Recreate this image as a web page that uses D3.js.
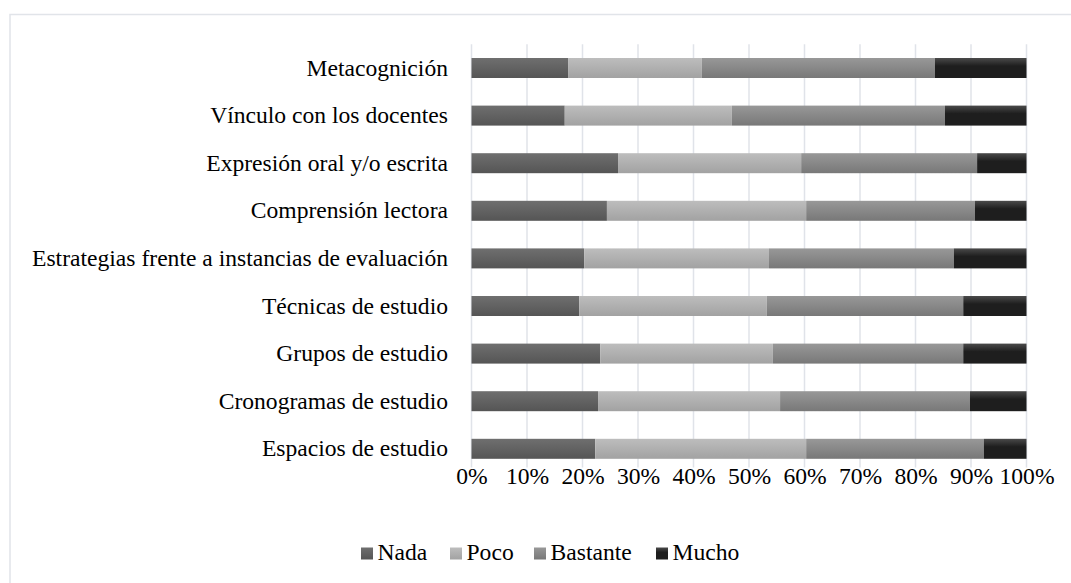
<!DOCTYPE html>
<html>
<head>
<meta charset="utf-8">
<script src="https://cdn.jsdelivr.net/npm/d3@7"></script>
<style>
  body { margin: 0; background: #fff; }
  svg { display: block; }
  svg text { font-family: 'Liberation Serif', 'Times New Roman', Times, 'DejaVu Serif', serif; }
</style>
</head>
<body>
<svg></svg>
<script>
let categories = [
    'Metacognición',
    'Vínculo con los docentes',
    'Expresión oral y/o escrita',
    'Comprensión lectora',
    'Estrategias frente a instancias de evaluación',
    'Técnicas de estudio',
    'Grupos de estudio',
    'Cronogramas de estudio',
    'Espacios de estudio'
]
let seriesNames = ['Nada', 'Poco', 'Bastante', 'Mucho']
let nada     = [17.4, 16.8, 26.4, 24.4, 20.3, 19.4, 23.2, 22.8, 22.3]
let poco     = [24.1, 30.1, 33.0, 35.9, 33.3, 33.8, 31.1, 32.8, 38.0]
let bastante = [42.0, 38.4, 31.7, 30.4, 33.3, 35.4, 34.3, 34.2, 32.0]
let mucho    = [16.5, 14.7,  8.9,  9.3, 13.1, 11.4, 11.4, 10.2,  7.7]
let tickValues = [0, 10, 20, 30, 40, 50, 60, 70, 80, 90, 100]

let width = 1071
let height = 583
let plotLeft = 471.5
let plotRight = 1026.5
let plotTop = 44.2
let plotBottom = 472.6
let fontSize = 23.6

let svg = d3.select('svg')
            .attr('width', width)
            .attr('height', height)

// gradients (top lighter, bottom darker)
let colors = [
    ['#6f6f6f', '#555555'],
    ['#bdbdbd', '#a2a2a2'],
    ['#989898', '#787878'],
    ['#4a4a4a', '#1e1e1e']
]
let defs = svg.append('defs')
colors.forEach((c, i) => {
    let g = defs.append('linearGradient')
                .attr('id', 'grad' + i)
                .attr('x1', 0).attr('y1', 0).attr('x2', 0).attr('y2', 1)
    g.append('stop').attr('offset', '0%').attr('stop-color', c[0])
    g.append('stop').attr('offset', i == 3 ? '40%' : '100%').attr('stop-color', c[1])
    if (i == 3) g.append('stop').attr('offset', '100%').attr('stop-color', c[1])
})

// outer frame
svg.append('path')
   .attr('d', 'M10,' + height + ' V14.5 H' + width)
   .attr('fill', 'none')
   .attr('stroke', '#e1e4e9')
   .attr('stroke-width', 1.5)

let xScale = d3.scaleLinear()
               .domain([0, 100])
               .range([plotLeft, plotRight])

let yScale = d3.scaleBand()
               .domain(categories)
               .range([plotTop, plotBottom])
               .paddingInner(0.58)
               .paddingOuter(0.29)

// grid lines
svg.append('g')
   .selectAll('line')
   .data(tickValues)
   .enter()
   .append('line')
   .attr('x1', d => xScale(d))
   .attr('x2', d => xScale(d))
   .attr('y1', plotTop)
   .attr('y2', plotBottom - 5)
   .attr('stroke', '#e0e3e9')
   .attr('stroke-width', 1.5)

let table = categories.map((c, i) => ({
    cat: c, Nada: nada[i], Poco: poco[i], Bastante: bastante[i], Mucho: mucho[i]
}))
let stacked = d3.stack().keys(seriesNames)(table)

svg.append('g')
   .selectAll('g')
   .data(stacked)
   .enter()
   .append('g')
   .attr('fill', (d, i) => 'url(#grad' + i + ')')
   .selectAll('rect')
   .data(d => d)
   .enter()
   .append('rect')
   .attr('x', d => xScale(d[0]))
   .attr('width', d => xScale(d[1]) - xScale(d[0]))
   .attr('y', d => yScale(d.data.cat))
   .attr('height', yScale.bandwidth())

// category labels
let yAxis = d3.axisLeft(yScale).tickSize(0).tickPadding(23.5)
let yg = svg.append('g')
            .attr('transform', 'translate(' + plotLeft + ',0)')
            .call(yAxis)
yg.attr('font-family', null).attr('font-size', null)
yg.select('.domain').remove()
yg.selectAll('text')
  .style('font-size', fontSize + 'px')
  .attr('fill', '#000')

// x tick labels
let xAxis = d3.axisBottom(xScale)
              .tickValues(tickValues)
              .tickFormat(d => d + '%')
              .tickSize(0)
              .tickPadding(0)
let xg = svg.append('g')
            .attr('transform', 'translate(0,484)')
            .call(xAxis)
xg.attr('font-family', null).attr('font-size', null)
xg.select('.domain').remove()
xg.selectAll('text')
  .attr('dy', 0)
  .style('font-size', fontSize + 'px')
  .attr('fill', '#000')

// legend
let legendX = [361, 450, 534, 656]
let legend = svg.append('g')
legend.selectAll('rect')
      .data(seriesNames)
      .enter()
      .append('rect')
      .attr('x', (d, i) => legendX[i])
      .attr('y', 547.5)
      .attr('width', 12)
      .attr('height', 12)
      .attr('fill', (d, i) => 'url(#grad' + i + ')')
legend.selectAll('text')
      .data(seriesNames)
      .enter()
      .append('text')
      .attr('x', (d, i) => legendX[i] + 16.5)
      .attr('y', 560)
      .style('font-size', fontSize + 'px')
      .attr('fill', '#000')
      .text(d => d)
</script>
</body>
</html>
